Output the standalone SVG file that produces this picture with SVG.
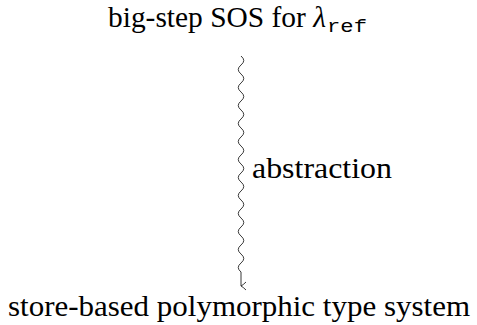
<svg xmlns="http://www.w3.org/2000/svg" width="477" height="325" viewBox="0 0 477 325">
<style>
.t{font-family:"Liberation Serif","DejaVu Serif",serif;font-size:29px;fill:#000}
.m{font-family:"Liberation Mono","DejaVu Sans Mono",monospace;font-size:19px}
.c{fill:none;stroke:#222;stroke-width:0.9}
</style>
<defs>
<marker id="ar" markerWidth="10" markerHeight="10" refX="5" refY="8" orient="auto" markerUnits="userSpaceOnUse" viewBox="0 0 10 10">
<path d="M1,3 Q4,6 5,8 Q6,6 9,3" fill="none" stroke="#222" stroke-width="0.9"/>
</marker>
</defs>
<g id="top"><text class="t" x="108" y="27" textLength="218" lengthAdjust="spacingAndGlyphs">big-step SOS for <tspan font-style="italic">λ</tspan></text><text class="m" x="327" y="32" textLength="40" lengthAdjust="spacingAndGlyphs">ref</text></g>
<g id="bottom"><text class="t" x="8" y="316" textLength="462" lengthAdjust="spacingAndGlyphs">store-based polymorphic type system</text></g>
<g id="connectors">
<path class="c" marker-end="url(#ar)" d="M241,56 q5.5,4.5 0,9 t0,9 t0,9 t0,9 t0,9 t0,9 t0,9 t0,9 t0,9 t0,9 t0,9 t0,9 t0,9 t0,9 t0,9 t0,9 t0,9 t0,9 t0,9 t0,9 t0,9 t0,9 t0,9 t0,9 L241,286"/>
<text class="t" x="252" y="178" textLength="140" lengthAdjust="spacingAndGlyphs">abstraction</text>
</g>
</svg>
